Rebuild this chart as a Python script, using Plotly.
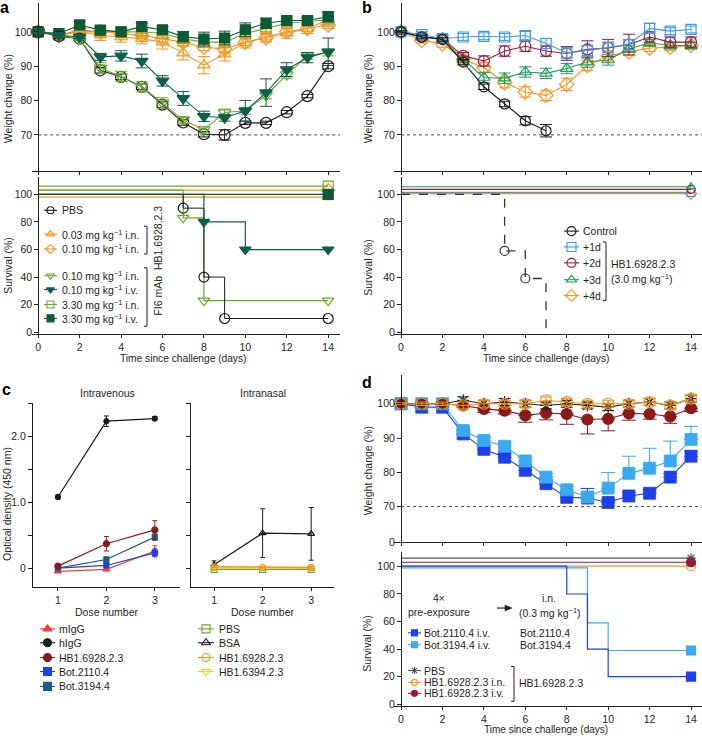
import plotly.graph_objects as go

W, H = 702, 740
FONT = "Liberation Sans, Arial, Helvetica, sans-serif"
TXT = "#231f20"

# ------------------------------------------------------------------ data
days = list(range(15))
tick_days = [0, 2, 4, 6, 8, 10, 12, 14]

# a: weight change (%)
a_pbs = [100, 98.7, 98.0, 88.8, 86.9, 84.0, 78.8, 73.6, 70.2, 70.0, 73.5, 73.5, 76.6, 81.3, 90.0]
a_pbs_err = [0.3, 0.5, 0.5, 0.8, 0.8, 0.8, 0.8, 0.8, 0.8, 1.5, 0.5, 0.5, 0.5, 0.5, 0.8]
a_hb003 = [100, 99.0, 100.0, 99.0, 98.5, 98.0, 97.0, 93.8, 90.3, 93.5, 96.8, 98.5, 99.6, 101.0, 103.5]
a_hb003_err = [0.3, 1.0, 1.0, 1.5, 1.5, 1.5, 2.0, 2.0, 2.5, 2.0, 1.5, 1.5, 1.5, 1.5, 2.0]
a_hb010 = [100, 99.0, 100.0, 100.0, 99.5, 99.0, 98.0, 97.0, 95.5, 95.0, 97.0, 98.3, 100.0, 101.0, 102.0]
a_hb010_err = [0.3, 1, 1, 1, 1, 1, 1, 1, 1, 1, 1, 1, 1, 1, 1]
a_fi010in = [100, 99.0, 98.0, 89.5, 87.0, 84.0, 79.3, 74.3, 71.5, 76.5, 77.0, 81.5, 87.5, 93.0, 94.0]
a_fi010in_err = [0.3, 0.5, 0.5, 1.5, 1.5, 1.5, 1.5, 1.0, 1.0, 1.0, 1.0, 1.0, 1.0, 1.0, 1.0]
a_fi010iv = [100, 99.0, 98.5, 92.7, 93.0, 91.5, 85.7, 80.6, 75.4, 75.0, 77.0, 82.3, 89.0, 92.5, 94.2]
a_fi010iv_err = [0.3, 0.5, 0.5, 1.0, 1.5, 2.0, 1.5, 2.0, 1.5, 1.0, 3.0, 4.0, 2.0, 1.5, 4.0]
a_fi330in = [100, 99.0, 100.5, 100.0, 100.0, 100.0, 99.5, 98.0, 97.0, 97.0, 99.5, 101.0, 102.5, 103.0, 103.5]
a_fi330in_err = [0.3, 1, 1, 1, 1, 1, 1, 1, 1.5, 1.5, 1, 1, 1, 1, 1]
a_fi330iv = [100, 99.5, 102.0, 100.5, 100.0, 101.5, 100.6, 98.6, 97.9, 98.2, 100.6, 102.5, 103.3, 103.3, 104.4]
a_fi330iv_err = [0.3, 1, 1, 1, 1, 1, 1, 1.5, 2, 2, 2, 1.5, 1, 1, 1.5]

# a: survival (%)
a_surv_pbs_t = [0, 7, 8, 9, 14]
a_surv_pbs = [100, 90, 40, 10, 10]
a_surv_fi010in_t = [0, 7, 8, 14]
a_surv_fi010in = [100, 83, 23, 23]
a_surv_fi010iv_t = [0, 8, 10, 14]
a_surv_fi010iv = [100, 80, 60, 60]
surv_full_t = [0, 14]
surv_full = [100, 100]

# b: weight change (%)
b_ctrl_t = [0, 1, 2, 3, 4, 5, 6, 7]
b_ctrl = [100, 98.5, 97.8, 91.2, 84.0, 79.0, 74.1, 71.2]
b_ctrl_err = [0.3, 0.5, 0.5, 0.8, 0.8, 0.8, 1.2, 1.8]
b_1d = [100, 99.2, 98.0, 98.5, 98.7, 98.5, 98.9, 96.6, 93.9, 94.5, 95.5, 96.3, 101.0, 100.2, 100.7]
b_1d_err = [0.3, 0.8, 1, 1, 1, 1, 1.2, 1.5, 1.5, 1.5, 1.5, 1.5, 1.5, 1, 1]
b_2d = [100, 98.5, 98.0, 93.0, 91.5, 94.4, 95.8, 94.4, 93.7, 94.9, 95.3, 96.3, 98.5, 97.0, 97.0]
b_2d_err = [0.3, 0.8, 1, 1, 1.5, 1.5, 1.5, 1.5, 2, 2.5, 2.5, 3, 1.5, 1.5, 1.5]
b_3d = [100, 98.5, 98.0, 92.0, 86.7, 86.5, 88.3, 87.9, 89.3, 91.2, 91.8, 95.0, 96.8, 96.0, 96.0]
b_3d_err = [0.3, 0.8, 1, 1, 1.5, 1.5, 1.5, 1.5, 1.5, 1.5, 1.5, 1, 1, 1, 1]
b_4d = [100, 97.5, 96.5, 92.0, 89.6, 85.2, 82.5, 81.5, 84.7, 90.2, 93.0, 94.1, 95.3, 95.5, 96.0]
b_4d_err = [0.3, 0.8, 1, 1, 1.5, 1.5, 1.5, 1.5, 1.8, 1.5, 1.5, 1, 1, 1, 1]

# b: survival (%)
b_surv_ctrl_t = [0, 5, 6, 7]
b_surv_ctrl = [100, 59, 39, 0]

# c: optical density (450 nm)
dose = [1, 2, 3]
iv_migg = [-0.05, -0.02, 0.26]
iv_migg_err = [0.02, 0.02, 0.08]
iv_higg = [1.08, 2.23, 2.27]
iv_higg_err = [0.03, 0.08, 0.03]
iv_hb = [0.03, 0.37, 0.58]
iv_hb_err = [0.02, 0.11, 0.14]
iv_bot2110 = [0.0, 0.04, 0.23]
iv_bot2110_err = [0.01, 0.02, 0.06]
iv_bot3194 = [0.0, 0.13, 0.47]
iv_bot3194_err = [0.01, 0.04, 0.05]
in_pbs = [-0.02, -0.02, -0.02]
in_pbs_err = [0.01, 0.01, 0.01]
in_bsa = [0.05, 0.53, 0.52]
in_bsa_err = [0.06, 0.37, 0.40]
in_hb = [0.02, 0.01, 0.01]
in_hb_err = [0.01, 0.01, 0.02]
in_hb6394 = [0.0, 0.0, 0.0]
in_hb6394_err = [0.01, 0.01, 0.01]

# d: weight change (%)
d_pbs = [100, 100, 100, 101, 100, 100.5, 100, 99.5, 100, 99.5, 99, 100, 100.5, 99.5, 101.5]
d_pbs_err = [0.3, 0.5, 0.5, 1, 1, 1, 1, 1, 1, 1, 1, 1, 1, 1, 1]
d_hb_in = [100, 100, 100, 99.5, 100, 100, 100, 101, 100.5, 100, 100, 100, 100.5, 99.5, 101.5]
d_hb_in_err = [0.3, 0.5, 0.5, 1, 1, 1, 1, 1, 1, 1, 1, 1, 1, 1, 1]
d_hb_iv = [100, 100, 100, 99.5, 98.5, 98.0, 96.6, 97.3, 97.0, 95.4, 95.6, 97.2, 97.0, 96.3, 98.7]
d_hb_iv_errm = [0, 0, 0, 0.5, 1, 1, 2, 2, 3, 4.2, 3.5, 2, 1.5, 2, 1]
d_bot2110 = [100, 99, 99, 91.2, 86.7, 84.4, 80.6, 76.7, 72.7, 72.5, 71.2, 73.1, 73.9, 78.6, 84.7]
d_bot2110_errp = [0, 0.5, 0.5, 1, 1, 1, 1, 1, 1, 2.8, 1, 1, 1, 1, 1.5]
d_bot3194 = [100, 100, 100, 92.2, 89.3, 87.6, 83.3, 78.6, 74.9, 72.8, 75.4, 79.7, 81.2, 83.3, 89.6]
d_bot3194_errp = [0, 0.5, 0.5, 1, 1, 1, 1, 1, 1, 1.5, 4.5, 5, 5.8, 5.8, 3.8]

# d: survival (%)
d_surv_bot2110_t = [0, 8, 9, 10, 14]
d_surv_bot2110 = [100, 80, 40, 20, 20]
d_surv_bot3194_t = [0, 9, 10, 14]
d_surv_bot3194 = [100, 59, 39, 39]

weight_ticks = [70, 80, 90, 100]
d_weight_ticks = [59.6, 70, 80, 90, 100]
d_weight_ticktext = ["0", "70", "80", "90", "100"]
surv_ticks = [0, 20, 40, 60, 80, 100]
od_ticks = [0, 1.0, 2.0]
od_ticktext = ["0", "1.0", "2.0"]

# ------------------------------------------------------------------ colours
ORANGE = "#F7941D"
LGREEN = "#6BAA2E"
DGREEN_T = "#0E5E4E"
DGREEN_S = "#0B5A38"
BLACK = "#1a1a1a"
B_BLUE = "#3D9BE9"
B_MAROON = "#9B1B3F"
B_GREEN = "#1E9E5A"
MAROON = "#8B1A1A"
RED = "#FF3B2F"
BLUE = "#1E40E6"
STEEL = "#1F5A8C"
LBLUE = "#3AA8F2"
YELLOW = "#F2D21B"
GRAY = "#555555"
D_MAROON = "#941C3A"

fig = go.Figure()


def fx(p):
    return p / W


def fy(p):
    return 1 - p / H


def add(xa, ya, x, y, color, symbol, size, mode="lines+markers", err=None,
        errm=None, dash="solid", lw=1.1, ew=6, mlw=1.2, shape="linear"):
    marker = dict(symbol=symbol, size=size, color=color,
                  line=dict(color=color, width=mlw))
    tr = go.Scatter(x=x, y=y, mode=mode, xaxis=xa, yaxis=ya,
                    line=dict(color=color, width=lw, dash=dash, shape=shape),
                    marker=marker, cliponaxis=False, showlegend=False,
                    hoverinfo="skip")
    if err is not None or errm is not None:
        ed = dict(type="data", color=color, thickness=1, width=ew, visible=True)
        if errm is None:
            ed["array"] = err
        else:
            ed.update(symmetric=False, array=err if err is not None else [0] * len(x),
                      arrayminus=errm)
        tr.error_y = ed
    fig.add_trace(tr)


def disp(vals, off):
    return [v + off if v == 100 else v for v in vals]


def surv(xa, ya, t, s, off, color, symbol, size, marks="end", dash="solid", lw=1.2):
    ys = disp(s, off)
    add(xa, ya, t, ys, color, symbol, size, mode="lines", dash=dash, lw=lw, shape="hv")
    if marks == "steps":
        mx, my = t[1:], ys[1:]
    elif marks == "drops":
        mx, my = t[1:-1], ys[1:-1]
    else:
        mx, my = t[-1:], ys[-1:]
    add(xa, ya, mx, my, color, symbol, size, mode="markers")


# ---------------- panel a weight
add("x", "y", days, a_fi330in, LGREEN, "square-open", 10, err=a_fi330in_err)
add("x", "y", days, a_hb010, ORANGE, "diamond-open", 11, err=a_hb010_err)
add("x", "y", days, a_hb003, ORANGE, "triangle-up-open", 11, err=a_hb003_err)
add("x", "y", days, a_fi330iv, DGREEN_S, "square", 10, err=a_fi330iv_err)
add("x", "y", days, a_pbs, BLACK, "circle-open", 11, err=a_pbs_err)
add("x", "y", days, a_fi010in, LGREEN, "triangle-down-open", 11, err=a_fi010in_err)
add("x", "y", days, a_fi010iv, DGREEN_T, "triangle-down", 11, err=a_fi010iv_err)

# ---------------- panel a survival
surv("x2", "y2", surv_full_t, surv_full, -2, ORANGE, "triangle-up-open", 10)
surv("x2", "y2", surv_full_t, surv_full, 3, ORANGE, "diamond-open", 10)
surv("x2", "y2", surv_full_t, surv_full, 6, LGREEN, "square-open", 10)
surv("x2", "y2", a_surv_fi010in_t, a_surv_fi010in, 3, LGREEN, "triangle-down-open", 10, marks="steps")
surv("x2", "y2", a_surv_pbs_t, a_surv_pbs, 0, BLACK, "circle-open", 10, marks="steps", lw=1.0)
surv("x2", "y2", a_surv_fi010iv_t, a_surv_fi010iv, 0, DGREEN_T, "triangle-down", 10, marks="steps")
surv("x2", "y2", surv_full_t, surv_full, 0, DGREEN_S, "square", 10)

# ---------------- panel b weight
add("x3", "y3", days, b_4d, ORANGE, "diamond-open", 11, err=b_4d_err)
add("x3", "y3", days, b_3d, B_GREEN, "triangle-up-open", 11, err=b_3d_err)
add("x3", "y3", days, b_2d, B_MAROON, "circle-open", 11, err=b_2d_err)
add("x3", "y3", days, b_1d, B_BLUE, "square-open", 10, err=b_1d_err)
add("x3", "y3", b_ctrl_t, b_ctrl, BLACK, "circle-open", 10, err=b_ctrl_err)

# ---------------- panel b survival
surv("x4", "y4", surv_full_t, surv_full, 0.5, ORANGE, "diamond-open", 9)
surv("x4", "y4", surv_full_t, surv_full, 1.4, B_BLUE, "square-open", 8)
surv("x4", "y4", surv_full_t, surv_full, 3.6, B_MAROON, "circle-open", 8)
surv("x4", "y4", surv_full_t, surv_full, 5.5, B_GREEN, "triangle-up-open", 8)
surv("x4", "y4", b_surv_ctrl_t, b_surv_ctrl, 0, "#333333", "circle-open", 9,
     marks="drops", dash="dash", lw=1.3)

# ---------------- panel c
add("x5", "y5", dose, iv_migg, RED, "triangle-up", 6, err=iv_migg_err, ew=2.5, lw=1.2)
add("x5", "y5", dose, iv_bot2110, BLUE, "square", 5, err=iv_bot2110_err, ew=2.5, lw=1.2)
add("x5", "y5", dose, iv_bot3194, STEEL, "square", 5, err=iv_bot3194_err, ew=2.5, lw=1.2)
add("x5", "y5", dose, iv_hb, MAROON, "circle", 6, err=iv_hb_err, ew=2.5, lw=1.2)
add("x5", "y5", dose, iv_higg, BLACK, "circle", 5, err=iv_higg_err, ew=2.5, lw=1.2)

add("x6", "y6", dose, in_bsa, BLACK, "triangle-up-open", 6, err=in_bsa_err, ew=2.5, lw=1.2)
add("x6", "y6", dose, in_pbs, LGREEN, "square-open", 6, err=in_pbs_err, ew=2.5, lw=1.2)
add("x6", "y6", dose, in_hb6394, YELLOW, "triangle-down-open", 6, err=in_hb6394_err, ew=2.5, lw=1.2)
add("x6", "y6", dose, in_hb, ORANGE, "circle-open", 6, err=in_hb_err, ew=2.5, lw=1.6)

# ---------------- panel d weight
add("x7", "y7", days, d_bot2110, BLUE, "square", 12, err=d_bot2110_errp,
    errm=[0] * 15, ew=7, mlw=0.8)
add("x7", "y7", days, d_bot3194, LBLUE, "square", 12, err=d_bot3194_errp,
    errm=[0] * 15, ew=7, mlw=0.8)
add("x7", "y7", days, d_hb_iv, MAROON, "circle", 11, err=[0] * 15,
    errm=d_hb_iv_errm, ew=7)
add("x7", "y7", days, d_pbs, "#222222", "asterisk-open", 10, err=d_pbs_err, ew=6)
add("x7", "y7", days, d_hb_in, ORANGE, "circle-open", 11, err=d_hb_in_err, ew=6)

# ---------------- panel d survival
surv("x8", "y8", surv_full_t, surv_full, 6, GRAY, "asterisk-open", 8)
surv("x8", "y8", surv_full_t, surv_full, 0.2, ORANGE, "circle-open", 9)
surv("x8", "y8", surv_full_t, surv_full, 3, D_MAROON, "circle", 9)
surv("x8", "y8", d_surv_bot3194_t, d_surv_bot3194, -1, LBLUE, "square", 9)
surv("x8", "y8", d_surv_bot2110_t, d_surv_bot2110, 0.2, BLUE, "square", 9)

# ---------------------------------------------------------------- legends
# sample glyphs drawn on a pixel-space overlay axis (x9/y9)
annotations = []
shapes = []


def ann(x, y, text, size=10.5, xanchor="left", angle=0, yanchor="middle"):
    annotations.append(dict(x=x, y=y, xref="x9", yref="y9", text=text,
                            showarrow=False, xanchor=xanchor, yanchor=yanchor,
                            textangle=angle, borderpad=0,
                            font=dict(family=FONT, size=size, color=TXT)))


def leg(x0, x1, y, color, symbol, size, label, tx, lw=1.1):
    fig.add_trace(go.Scatter(x=[x0, x1], y=[y, y], mode="lines", xaxis="x9", yaxis="y9",
                             line=dict(color=color, width=lw), showlegend=False,
                             hoverinfo="skip", cliponaxis=False))
    fig.add_trace(go.Scatter(x=[(x0 + x1) / 2], y=[y], mode="markers", xaxis="x9",
                             yaxis="y9", marker=dict(symbol=symbol, size=size, color=color,
                                                     line=dict(color=color, width=1.1)),
                             showlegend=False, hoverinfo="skip", cliponaxis=False))
    ann(tx, y, label)


def bracket(x, y0, y1):
    shapes.append(dict(type="path", xref="x9", yref="y9",
                       path=f"M {x-3},{y0} L {x},{y0} L {x},{y1} L {x-3},{y1}",
                       line=dict(color=TXT, width=1)))


KG = "mg kg<sup>−1</sup>"
# a legend
a_leg = [("PBS", BLACK, "circle-open", 212),
         (f"0.03 {KG} i.n.", ORANGE, "triangle-up-open", 236),
         (f"0.10 {KG} i.n.", ORANGE, "diamond-open", 251),
         (f"0.10 {KG} i.n.", LGREEN, "triangle-down-open", 278),
         (f"0.10 {KG} i.v.", DGREEN_T, "triangle-down", 292),
         (f"3.30 {KG} i.n.", LGREEN, "square-open", 307),
         (f"3.30 {KG} i.v.", DGREEN_S, "square", 321)]
for lab, col, sym, yy in a_leg:
    leg(44, 57, yy, col, sym, 7, lab, 61)
bracket(147, 228, 256)
bracket(147, 270, 329)
ann(158, 240, "HB1.6928.2.3", xanchor="center", angle=-90)
ann(158, 298, "FI6 mAb", xanchor="center", angle=-90)

# b legend
b_leg = [("Control", BLACK, "circle-open", 233),
         ("+1d", B_BLUE, "square-open", 249),
         ("+2d", B_MAROON, "circle-open", 265),
         ("+3d", B_GREEN, "triangle-up-open", 282),
         ("+4d", ORANGE, "diamond-open", 298)]
for lab, col, sym, yy in b_leg:
    leg(564, 579, yy, col, sym, 9, lab, 582)
bracket(606, 244, 303)
ann(610, 266, "HB1.6928.2.3")
ann(610, 281, "(3.0 mg kg<sup>−1</sup>)")

# c legend
c_leg_l = [("mIgG", RED, "triangle-up", 634),
           ("hIgG", BLACK, "circle", 648),
           ("HB1.6928.2.3", MAROON, "circle", 663),
           ("Bot.2110.4", BLUE, "square", 677),
           ("Bot.3194.4", STEEL, "square", 692)]
for lab, col, sym, yy in c_leg_l:
    leg(40, 55, yy, col, sym, 8, lab, 58)
c_leg_r = [("PBS", LGREEN, "square-open", 634),
           ("BSA", BLACK, "triangle-up-open", 648),
           ("HB1.6928.2.3", ORANGE, "circle-open", 663),
           ("HB1.6394.2.3", YELLOW, "triangle-down-open", 677)]
for lab, col, sym, yy in c_leg_r:
    leg(198, 214, yy, col, sym, 8, lab, 218)

# d legend
d_leg = [("Bot.2110.4 i.v.", BLUE, "square", 638),
         ("Bot.3194.4 i.v.", LBLUE, "square", 650),
         ("PBS", GRAY, "asterisk-open", 676),
         ("HB1.6928.2.3 i.n.", ORANGE, "circle-open", 688),
         ("HB1.6928.2.3 i.v.", D_MAROON, "circle", 699)]
for lab, col, sym, yy in d_leg:
    leg(408, 421, yy, col, sym, 6, lab, 423)
bracket(514, 672, 707)
ann(518, 689, "HB1.6928.2.3")
ann(519, 638, "Bot.2110.4")
ann(519, 650, "Bot.3194.4")
ann(439, 603, "4×", xanchor="center")
ann(439, 617, "pre-exposure", xanchor="center")
ann(549, 603, "i.n.", xanchor="center")
ann(549, 617, "(0.3 mg kg<sup>−1</sup>)", xanchor="center")
# arrow
shapes.append(dict(type="line", xref="x9", yref="y9", x0=497, x1=506, y0=613, y1=613,
                   line=dict(color=TXT, width=1.2)))
shapes.append(dict(type="path", xref="x9", yref="y9",
                   path="M 505,610 L 512,613 L 505,616 Z", fillcolor=TXT,
                   line=dict(color=TXT, width=0.5)))

# axis titles
ann(8, 100, "Weight change (%)", xanchor="center", angle=-90)
ann(8, 268, "Survival (%)", xanchor="center", angle=-90)
ann(368, 100, "Weight change (%)", xanchor="center", angle=-90)
ann(368, 270, "Survival (%)", xanchor="center", angle=-90)
ann(7, 508, "Optical density (450 nm)", xanchor="center", angle=-90)
ann(368, 475, "Weight change (%)", xanchor="center", angle=-90)
ann(367, 649, "Survival (%)", xanchor="center", angle=-90)
ann(183, 361, "Time since challenge (days)", xanchor="center", size=10.2)
ann(546, 361, "Time since challenge (days)", xanchor="center", size=10.2)
ann(546, 735, "Time since challenge (days)", xanchor="center", size=10)
ann(107, 617, "Dose number", xanchor="center")
ann(263, 617, "Dose number", xanchor="center")
ann(107, 396, "Intravenous", xanchor="center")
ann(263, 396, "Intranasal", xanchor="center")

# panel letters
for lx, ly, lt in [(4, 8, "a"), (367, 8, "b"), (6, 393, "c"), (367, 386, "d")]:
    annotations.append(dict(x=lx, y=ly, xref="x9", yref="y9", text=f"<b>{lt}</b>",
                            showarrow=False, xanchor="center", yanchor="middle",
                            font=dict(family=FONT, size=16, color="#000")))

# dotted 70% lines
for xr, yr, x1 in [("x", "y", 14.57), ("x3", "y3", 14.53), ("x7", "y7", 14.53)]:
    shapes.append(dict(type="line", xref=xr, yref=yr, x0=0, x1=x1, y0=70, y1=70,
                       line=dict(color="#444", width=1, dash="dot")))

# ---------------------------------------------------------------- axes
tickfont = dict(family=FONT, size=10.5, color=TXT)


def base():
    return dict(showline=True, linecolor=TXT, linewidth=1, ticks="outside",
                ticklen=4, tickwidth=1, tickcolor=TXT, showgrid=False,
                zeroline=False, tickfont=tickfont, fixedrange=True)


def xax(d0, d1, rng, anchor, labels, tickvals):
    a = base()
    a.update(domain=[fx(d0), fx(d1)], range=rng, anchor=anchor,
             showticklabels=labels, tickvals=tickvals, ticklen=3)
    return a


def yax(d_bot, d_top, rng, tickvals, pos=None, anchor=None, ticktext=None,
        labels=True, minor=None):
    a = base()
    a.update(domain=[fy(d_bot), fy(d_top)], range=rng, tickvals=tickvals,
             showticklabels=labels)
    if ticktext is not None:
        a["ticktext"] = ticktext
    if minor is not None:
        a["minor"] = dict(tickvals=minor, ticks="outside", ticklen=4,
                          tickwidth=1, tickcolor=TXT, showgrid=False)
    if pos is not None:
        a.update(anchor="free", position=fx(pos))
    else:
        a["anchor"] = anchor
    return a


od_minor = [0.5, 1.5, 2.5]
AX = [-0.30, 14.57]
BX = [-0.34, 14.53]
layout = dict(
    xaxis=xax(32, 340, AX, "y", False, tick_days),
    yaxis=yax(172, 3, [59.6, 108.4], weight_ticks, pos=38.3),
    xaxis2=xax(32, 340, AX, "y2", True, tick_days),
    yaxis2=yax(337, 178, [-1.44, 112.9], surv_ticks, pos=38.3),
    xaxis3=xax(394, 702, BX, "y3", False, tick_days),
    yaxis3=yax(172, 3, [59.6, 108.4], weight_ticks, pos=401),
    xaxis4=xax(394, 702, BX, "y4", True, tick_days),
    yaxis4=yax(337, 178, [-1.44, 112.9], surv_ticks, pos=401),
    xaxis5=xax(33, 180, [0.485, 3.52], "y5", True, dose),
    yaxis5=yax(592, 406.7, [-0.29, 2.5], od_ticks, anchor="x5", ticktext=od_ticktext,
               minor=od_minor),
    xaxis6=xax(191, 334, [0.525, 3.47], "y6", True, dose),
    yaxis6=yax(592, 406.7, [-0.29, 2.5], od_ticks, anchor="x6", labels=False,
               minor=od_minor),
    xaxis7=xax(394, 702, BX, "y7", False, tick_days),
    yaxis7=yax(546.7, 378, [59.6, 108.4], d_weight_ticks, pos=401,
               ticktext=d_weight_ticktext),
    xaxis8=xax(394, 702, BX, "y8", True, tick_days),
    yaxis8=yax(711.7, 557, [-1.2, 110.1], surv_ticks, pos=401),
    xaxis9=dict(domain=[0, 1], range=[0, W], visible=False, anchor="y9", fixedrange=True),
    yaxis9=dict(domain=[0, 1], range=[H, 0], visible=False, anchor="x9", fixedrange=True),
)

fig.update_layout(**layout)
fig.update_layout(width=W, height=H, margin=dict(l=0, r=0, t=0, b=0, pad=0),
                  paper_bgcolor="white", plot_bgcolor="rgba(0,0,0,0)",
                  showlegend=False, annotations=annotations, shapes=shapes,
                  font=dict(family=FONT, size=10.5, color=TXT))

fig.write_html("out.html", config={"displayModeBar": False, "staticPlot": True},
               post_script="document.body.style.margin='0';document.body.style.padding='0';")
